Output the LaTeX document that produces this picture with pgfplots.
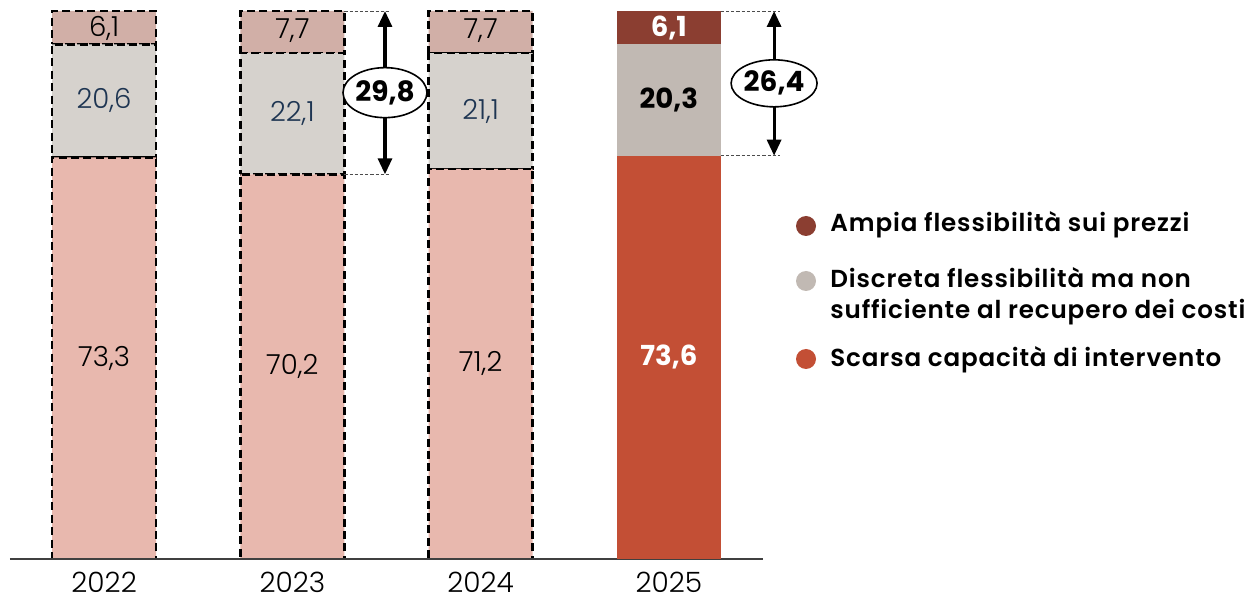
\documentclass[border=0pt]{standalone}
\usepackage{fontspec}
\setmainfont{Poppins}
\newfontfamily\poplight{Poppins Light}
\newfontfamily\legfont{Poppins SemiBold}[LetterSpace=3.5]
\usepackage{pgfplots}
\pgfplotsset{compat=1.18}
\usetikzlibrary{arrows.meta,shapes.geometric}
\definecolor{cTop}{HTML}{8B3E31}
\definecolor{cMid}{HTML}{C1B9B3}
\definecolor{cBot}{HTML}{C34F35}
\definecolor{fTop}{HTML}{D1AFA7}
\definecolor{fMid}{HTML}{D6D2CD}
\definecolor{fBot}{HTML}{E8B8AE}
\definecolor{numBlue}{HTML}{1E3552}
\begin{document}
\begin{tikzpicture}
\pgfplotsset{base/.style={width=376.5pt,height=274pt,scale only axis,
  xmin=-0.5,xmax=3.5,ymin=0,ymax=100,ybar stacked,bar width=52pt,clip=false}}
\tikzset{dashbar/.style={draw=black,line width=1.3pt,dash pattern=on 4pt off 2.2pt},
  bnum/.style={font=\poplight\fontsize{13.8}{16}\selectfont},
  bbold/.style={font=\bfseries\fontsize{13.8}{16}\selectfont},
  ann/.style={draw=black,line width=0.8pt,fill=white,ellipse,inner sep=0pt,minimum width=41pt,minimum height=25pt,font=\bfseries\fontsize{14}{16}\selectfont},
  gl/.style={black!70,line width=0.45pt,dash pattern=on 1.6pt off 1pt},
  arrB/.style={line width=1.6pt,{Triangle[width=7pt,length=8pt]}-},
  arrT/.style={line width=1.6pt,-{Triangle[width=7pt,length=8pt]}}}
% faded bars 2022-2024
\begin{axis}[base, axis lines=none, xtick=\empty, ytick=\empty]
\addplot+[fill=fBot, dashbar] coordinates {(0,73.3) (1,70.2) (2,71.2)};
\addplot+[fill=fMid, dashbar] coordinates {(0,20.6) (1,22.1) (2,21.1)};
\addplot+[fill=fTop, dashbar] coordinates {(0,6.1) (1,7.7) (2,7.7)};
\end{axis}
% solid bar 2025
\begin{axis}[base, axis x line=bottom, axis y line=none,
  axis line style={-,black!75,line width=1pt},
  xtick={0,1,2,3}, xticklabels={{\mbox{2022}},{\mbox{2023}},{\mbox{2024}},{\mbox{2025}}},
  major tick length=0pt, ytick=\empty,
  xticklabel style={font=\poplight\fontsize{14}{16}\selectfont, yshift=-3pt}]
\addplot+[fill=cBot, draw=none] coordinates {(3,73.6)};
\addplot+[fill=cMid, draw=none] coordinates {(3,20.3)};
\addplot+[fill=cTop, draw=none] coordinates {(3,6.1)};
\coordinate (O) at (rel axis cs:0,0);
\end{axis}
% labels and annotations
\begin{axis}[base, axis lines=none, xtick=\empty, ytick=\empty]
\node[bnum] at (axis cs:0,36.65) {73,3};
\node[bnum,text=numBlue] at (axis cs:0,83.6) {20,6};
\node[bnum] at (axis cs:0,96.9) {6,1};
\node[bnum] at (axis cs:1,35.1) {70,2};
\node[bnum,text=numBlue] at (axis cs:1,81.25) {22,1};
\node[bnum] at (axis cs:1,96.4) {7,7};
\node[bnum] at (axis cs:2,35.6) {71,2};
\node[bnum,text=numBlue] at (axis cs:2,81.75) {21,1};
\node[bnum] at (axis cs:2,96.4) {7,7};
\node[bbold,text=white] at (axis cs:3,36.8) {73,6};
\node[bbold] at (axis cs:3,83.75) {20,3};
\node[bbold,text=white] at (axis cs:3,96.95) {6,1};
% bracket 2023
\draw[gl] (axis cs:1.276,100) -- (axis cs:1.52,100);
\draw[gl] (axis cs:1.276,70.2) -- (axis cs:1.52,70.2);
\draw[arrB] (axis cs:1.492,70.2) -- (axis cs:1.492,80.6);
\draw[arrT] (axis cs:1.492,89.6) -- (axis cs:1.492,100);
\node[ann] at (axis cs:1.492,85.1) {29,8};
% bracket 2025
\draw[gl] (axis cs:3.276,100) -- (axis cs:3.59,100);
\draw[gl] (axis cs:3.276,73.6) -- (axis cs:3.59,73.6);
\draw[arrB] (axis cs:3.559,73.6) -- (axis cs:3.559,82.6);
\draw[arrT] (axis cs:3.559,91) -- (axis cs:3.559,100);
\node[ann,minimum width=42.5pt,minimum height=23.5pt] at (axis cs:3.559,86.8) {26,4};
\end{axis}
% legend
\begin{scope}[shift={(O)}]
\fill[cTop] (398pt,166.5pt) circle (5pt);
\fill[cMid] (398pt,139pt) circle (5pt);
\fill[cBot] (398pt,100pt) circle (5pt);
\node[anchor=west,inner sep=0pt,font=\legfont\fontsize{12.3}{15.5}\selectfont] at (410pt,167pt) {Ampia flessibilità sui prezzi};
\node[anchor=west,inner sep=0pt,align=left,font=\legfont\fontsize{12.3}{15.5}\selectfont] at (410pt,131.5pt) {Discreta flessibilità ma non\\sufficiente al recupero dei costi};
\node[anchor=west,inner sep=0pt,font=\legfont\fontsize{12.3}{15.5}\selectfont] at (410pt,99.5pt) {Scarsa capacità di intervento};
\end{scope}
\pgfresetboundingbox
\path[use as bounding box] ([shift={(-5pt,-20.5pt)}]O) rectangle ++(630pt,300pt);
\end{tikzpicture}
\end{document}
